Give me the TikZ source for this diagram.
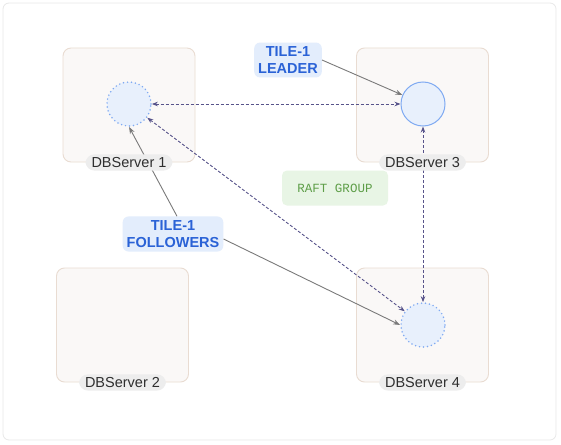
\documentclass[tikz,border=0pt]{standalone}
\usepackage{fontspec}
\setsansfont{Liberation Sans}
\setmonofont{Liberation Mono}
\usepackage{xcolor}
\definecolor{frame}{HTML}{E8E8E8}
\definecolor{srvfill}{HTML}{FAF8F7}
\definecolor{srvline}{HTML}{E9DCD2}
\definecolor{pill}{HTML}{EDEDED}
\definecolor{ink}{HTML}{2E2E2E}
\definecolor{shard}{HTML}{E8F0FC}
\definecolor{shardline}{HTML}{7FAAF2}
\definecolor{tile}{HTML}{E3EDFC}
\definecolor{tiletext}{HTML}{2A62D6}
\definecolor{raft}{HTML}{E8F5E5}
\definecolor{rafttext}{HTML}{5E9E48}
\definecolor{sync}{HTML}{57538A}
\definecolor{pointer}{HTML}{7A7A7A}
\usepackage{tikz}
\usetikzlibrary{positioning, arrows.meta, calc}

\begin{document}
\begin{tikzpicture}[x=1pt, y=-1pt,
  server/.style={rectangle, rounded corners=8pt, draw=srvline, fill=srvfill,
                 line width=0.9pt, minimum width=132pt, minimum height=114pt},
  srvlabel/.style={rectangle, rounded corners=9pt, fill=pill, text=ink,
                   font=\sffamily\fontsize{14.5}{16}\selectfont, inner xsep=6pt,
                   inner ysep=3pt},
  leader/.style={circle, draw=shardline, fill=shard, line width=1pt, minimum size=44pt},
  follower/.style={circle, draw=shardline, fill=shard, line width=1.7pt,
                   dash pattern=on 0pt off 4pt, line cap=round, minimum size=44pt},
  tilebox/.style={rectangle, rounded corners=6pt, fill=tile, text=tiletext,
                  font=\sffamily\bfseries\fontsize{14.5}{17}\selectfont, align=center,
                  inner xsep=4pt, inner ysep=4pt},
  raftbox/.style={rectangle, rounded corners=5pt, fill=raft, text=rafttext,
                  font=\ttfamily\fontsize{12.5}{14}\selectfont,
                  minimum width=106pt, minimum height=35pt},
  point/.style={-{Stealth[length=7pt, width=5pt]}, draw=pointer, line width=0.9pt},
  replicate/.style={{Stealth[length=6pt, width=4.5pt]}-{Stealth[length=6pt, width=4.5pt]},
                    draw=sync, line width=0.9pt, dash pattern=on 3pt off 2pt},
]
  \useasboundingbox (0,0) rectangle (561,444);
  \draw[frame, line width=0.8pt, rounded corners=6pt, fill=white] (3,3) rectangle (556,440);

  % DB servers
  \node[server] (db1) at (129,105) {};
  \node[server] (db3) at (422.5,105) {};
  \node[server] (db2) at (122.5,325) {};
  \node[server] (db4) at (422.5,325) {};

  % Tile-1 shards
  \node[follower] (c1) at (129,104) {};
  \node[leader] (c3) at (423,104) {};
  \node[follower] (c4) at (423,325) {};

  % Annotations
  \node[tilebox] (lead) at (288,60) {TILE-1\\LEADER};
  \node[tilebox] (fol) at (173,234) {TILE-1\\FOLLOWERS};
  \node[raftbox] (raftgrp) at (335,188) {RAFT GROUP};

  % Raft replication
  \draw[replicate] (c1) -- (c3);
  \draw[replicate] (c1) -- (c4);
  \draw[replicate] (c3) -- (c4);

  % Pointers from annotations
  \draw[point] (lead.east) -- (c3);
  \draw[point] ([xshift=4pt]fol.north) -- (c1.south);
  \draw[point] ([yshift=-5pt]fol.east) -- (c4.west);

  % Server names
  \node[srvlabel] (l1) at (db1.south) {DBServer 1};
  \node[srvlabel] (l3) at (db3.south) {DBServer 3};
  \node[srvlabel] (l2) at (db2.south) {DBServer 2};
  \node[srvlabel] (l4) at (db4.south) {DBServer 4};
\end{tikzpicture}
\end{document}
